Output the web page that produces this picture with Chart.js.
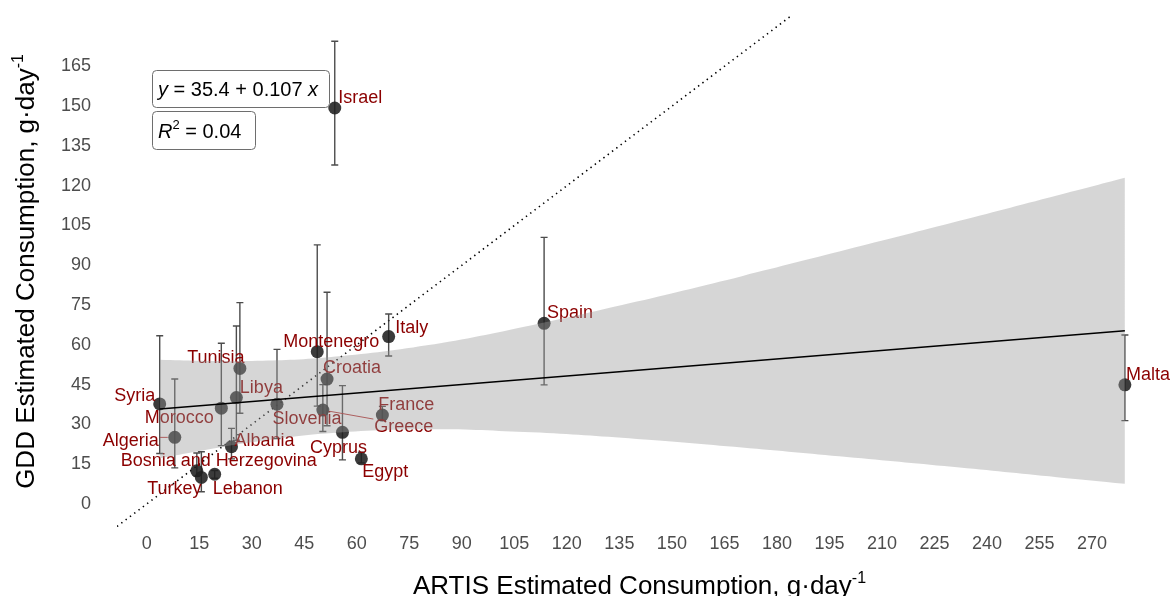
<!DOCTYPE html>
<html>
<head>
<meta charset="utf-8">
<script src="https://cdn.jsdelivr.net/npm/chart.js@4.4.1/dist/chart.umd.min.js"></script>
<style>
  html, body { margin: 0; padding: 0; background: #ffffff; overflow: hidden; }
  #wrap { width: 1170px; height: 596px; }
</style>
</head>
<body>
<div id="wrap"><canvas id="c" width="1170" height="596"></canvas></div>
<script>
// ---- data: fish consumption per country (g/day) ----
const countries = ['Israel', 'Syria', 'Algeria', 'Morocco', 'Tunisia', 'Libya', 'Albania', 'Slovenia',
  'Montenegro', 'Croatia', 'Greece', 'Cyprus', 'Egypt', 'France', 'Italy', 'Spain', 'Malta',
  'Bosnia and Herzegovina', 'Turkey', 'Lebanon'];
const artis   = [53.7, 3.7, 8.0, 21.3, 26.6, 25.6, 24.2, 37.2, 48.7, 51.5, 50.3, 55.9, 61.3, 67.3, 69.1, 113.5, 279.4, 14.3, 15.6, 19.4];
const gdd     = [149.3, 37.7, 25.1, 36.1, 51.1, 40.1, 21.6, 37.6, 57.4, 47.1, 35.4, 27.0, 17.0, 33.5, 63.1, 68.1, 44.9, 12.5, 10.0, 11.2];
const gddLow  = [127.8, 19.0, 13.6, 22.0, 34.2, 24.0, 17.0, 24.7, 36.9, 29.5, 27.3, 16.6, 15.5, 31.5, 55.8, 44.9, 31.4, 10.5, 4.6, 9.7];
const gddHigh = [174.5, 63.4, 47.1, 60.6, 75.9, 67.1, 28.5, 58.3, 97.7, 79.8, 45.0, 44.6, 19.5, 36.8, 71.6, 100.5, 63.7, 19.2, 19.7, 12.6];

// linear fit y = 35.4 + 0.107 x and its confidence band
const fitX = [3.7, 279.4];
const fitY = [35.8, 65.3];
const bandX    = [3.7, 15, 30, 52, 80, 110, 140, 170, 200, 230, 260, 279.4];
const bandHigh = [54.4, 54.0, 53.9, 55.3, 59.8, 67.4, 76.3, 85.9, 95.9, 106.0, 116.3, 123.0];
const bandLow  = [17.2, 20.0, 23.3, 26.7, 28.2, 27.0, 24.5, 21.3, 17.7, 14.0, 10.1, 7.6];

// 1:1 reference line
const identity = [-8.5, 184];

// axis ticks
const xTicks = [0, 15, 30, 45, 60, 75, 90, 105, 120, 135, 150, 165, 180, 195, 210, 225, 240, 255, 270];
const yTicks = [0, 15, 30, 45, 60, 75, 90, 105, 120, 135, 150, 165];

// ---- label placement (pixel offsets from each point) ----
const labelOffset = {
  'Israel': [25.5, -10], 'Syria': [-25, -8], 'Algeria': [-44, 4], 'Morocco': [-42, 10],
  'Tunisia': [-24, -10], 'Libya': [25, -10], 'Albania': [33, -6], 'Slovenia': [30, 15],
  'Montenegro': [14, -10], 'Croatia': [25, -11], 'Greece': [81, 17], 'Cyprus': [-4, 16],
  'Egypt': [24, 13], 'France': [24, -10], 'Italy': [23, -9], 'Spain': [26, -10],
  'Malta': [23, -10], 'Bosnia and Herzegovina': [22, -10], 'Turkey': [-27, 12], 'Lebanon': [33, 15]
};
const withLeader = ['Algeria', 'Slovenia', 'Greece'];

const FONT = '"Liberation Sans", Arial, sans-serif';
const LABEL_RED = '#8b0000';
const POINTS = 1;

const pointData = artis.map((x, i) => ({ x: x, y: gdd[i] }));

// error bars, drawn just under the points
const errorBars = {
  id: 'errorBars',
  beforeDatasetDraw(chart, args) {
    if (args.index !== POINTS) return;
    const { ctx, scales: { x, y } } = chart;
    ctx.save();
    ctx.strokeStyle = 'rgba(45,45,45,0.85)';
    ctx.lineWidth = 1.4;
    artis.forEach((v, i) => {
      const px = x.getPixelForValue(v);
      const top = y.getPixelForValue(gddHigh[i]);
      const bot = y.getPixelForValue(gddLow[i]);
      ctx.beginPath();
      ctx.moveTo(px, top); ctx.lineTo(px, bot);
      ctx.moveTo(px - 3.5, top); ctx.lineTo(px + 3.5, top);
      ctx.moveTo(px - 3.5, bot); ctx.lineTo(px + 3.5, bot);
      ctx.stroke();
    });
    ctx.restore();
  }
};

// country names, drawn right after the points so the band overlays them
const countryLabels = {
  id: 'countryLabels',
  afterDatasetDraw(chart, args) {
    if (args.index !== POINTS) return;
    const { ctx, scales: { x, y } } = chart;
    ctx.save();
    ctx.font = '18px ' + FONT;
    ctx.textAlign = 'center';
    ctx.textBaseline = 'middle';
    countries.forEach((name, i) => {
      const px = x.getPixelForValue(artis[i]);
      const py = y.getPixelForValue(gdd[i]);
      const [dx, dy] = labelOffset[name];
      const lx = px + dx, ly = py + dy;
      if (withLeader.includes(name)) {
        const w = ctx.measureText(name).width;
        const bx = Math.max(lx - w / 2 - 1, Math.min(px, lx + w / 2 + 1));
        const by = Math.max(ly - 8, Math.min(py, ly + 8));
        const ang = Math.atan2(by - py, bx - px);
        ctx.strokeStyle = '#b22222';
        ctx.lineWidth = 0.9;
        ctx.beginPath();
        ctx.moveTo(px + Math.cos(ang) * 7, py + Math.sin(ang) * 7);
        ctx.lineTo(bx, by);
        ctx.stroke();
      }
      ctx.fillStyle = LABEL_RED;
      ctx.fillText(name, lx, ly);
    });
    ctx.restore();
  }
};

// text runs with optional superscript
function drawRuns(ctx, runs, x, y) {
  let cx = x;
  runs.forEach(r => {
    ctx.font = (r.italic ? 'italic ' : '') + r.size + 'px ' + FONT;
    ctx.fillText(r.t, cx, y - (r.rise || 0));
    cx += ctx.measureText(r.t).width;
  });
}
function runsWidth(ctx, runs) {
  let w = 0;
  runs.forEach(r => {
    ctx.font = (r.italic ? 'italic ' : '') + r.size + 'px ' + FONT;
    w += ctx.measureText(r.t).width;
  });
  return w;
}

const annotations = {
  id: 'annotations',
  afterDraw(chart) {
    const { ctx, chartArea } = chart;
    ctx.save();
    ctx.fillStyle = '#000';
    ctx.textBaseline = 'alphabetic';
    ctx.textAlign = 'left';

    // axis titles
    const xTitle = [{ t: 'ARTIS Estimated Consumption, g·day', size: 26 }, { t: '-1', size: 16, rise: 11 }];
    const yTitle = [{ t: 'GDD Estimated Consumption, g·day', size: 26 }, { t: '-1', size: 16, rise: 11 }];
    const cx = (chartArea.left + chartArea.right) / 2;
    const xw = runsWidth(ctx, xTitle);
    drawRuns(ctx, xTitle, cx - xw / 2, 594);
    const cy = (chartArea.top + chartArea.bottom) / 2;
    ctx.save();
    ctx.translate(34, cy);
    ctx.rotate(-Math.PI / 2);
    const yw = runsWidth(ctx, yTitle);
    drawRuns(ctx, yTitle, -yw / 2, 0);
    ctx.restore();

    // regression equation boxes
    ctx.strokeStyle = '#6e6e6e';
    ctx.lineWidth = 1;
    ctx.fillStyle = '#ffffff';
    ctx.beginPath(); ctx.roundRect(152.5, 70.5, 177, 37, 4); ctx.fill(); ctx.stroke();
    ctx.beginPath(); ctx.roundRect(152.5, 111.5, 103, 38, 4); ctx.fill(); ctx.stroke();
    ctx.fillStyle = '#000';
    drawRuns(ctx, [
      { t: 'y', size: 20, italic: true }, { t: ' = 35.4 + 0.107 ', size: 20 }, { t: 'x', size: 20, italic: true }
    ], 158, 96);
    drawRuns(ctx, [
      { t: 'R', size: 20, italic: true }, { t: '2', size: 13, rise: 9 }, { t: ' = 0.04', size: 20 }
    ], 158, 138);
    ctx.restore();
  }
};

const tickFont = { family: FONT, size: 18 };

new Chart(document.getElementById('c'), {
  type: 'scatter',
  data: {
    datasets: [
      {
        type: 'line', label: '1:1',
        data: identity.map(v => ({ x: v, y: v })),
        borderColor: '#000', borderWidth: 1.6, borderDash: [1.4, 4],
        pointRadius: 0, fill: false, order: 5
      },
      {
        label: 'countries', data: pointData,
        backgroundColor: 'rgba(32,32,32,0.88)', borderWidth: 0,
        pointRadius: 6.5, order: 4
      },
      {
        type: 'line', label: 'band high',
        data: bandX.map((v, i) => ({ x: v, y: bandHigh[i] })),
        borderWidth: 0, borderColor: 'rgba(0,0,0,0)', pointRadius: 0, tension: 0.4,
        backgroundColor: 'rgba(153,153,153,0.4)', fill: '+1', order: 3
      },
      {
        type: 'line', label: 'band low',
        data: bandX.map((v, i) => ({ x: v, y: bandLow[i] })),
        borderWidth: 0, borderColor: 'rgba(0,0,0,0)', pointRadius: 0, tension: 0.4,
        fill: false, order: 2
      },
      {
        type: 'line', label: 'fit',
        data: fitX.map((v, i) => ({ x: v, y: fitY[i] })),
        borderColor: '#000', borderWidth: 1.3, pointRadius: 0, fill: false, order: 1
      }
    ]
  },
  options: {
    responsive: false,
    animation: false,
    events: [],
    layout: { padding: { left: 0, right: 8, top: 16, bottom: 0 } },
    plugins: { legend: { display: false }, tooltip: { enabled: false }, filler: { drawTime: 'beforeDatasetDraw' } },
    scales: {
      x: {
        type: 'linear', min: -8.5, max: 290,
        grid: { display: false, drawTicks: false }, border: { display: false },
        ticks: { font: tickFont, color: '#4d4d4d', padding: 6, maxRotation: 0, autoSkip: false },
        afterBuildTicks: s => { s.ticks = xTicks.map(v => ({ value: v })); },
        afterFit: s => { s.height = 69; s.paddingLeft = 0; s.paddingRight = 0; }
      },
      y: {
        type: 'linear', min: -8.7, max: 184,
        grid: { display: false, drawTicks: false }, border: { display: false },
        ticks: { font: tickFont, color: '#4d4d4d', padding: 26, autoSkip: false },
        afterBuildTicks: s => { s.ticks = yTicks.map(v => ({ value: v })); },
        afterFit: s => { s.width = 117; s.paddingTop = 0; s.paddingBottom = 0; }
      }
    }
  },
  plugins: [errorBars, countryLabels, annotations]
});
</script>
</body>
</html>
